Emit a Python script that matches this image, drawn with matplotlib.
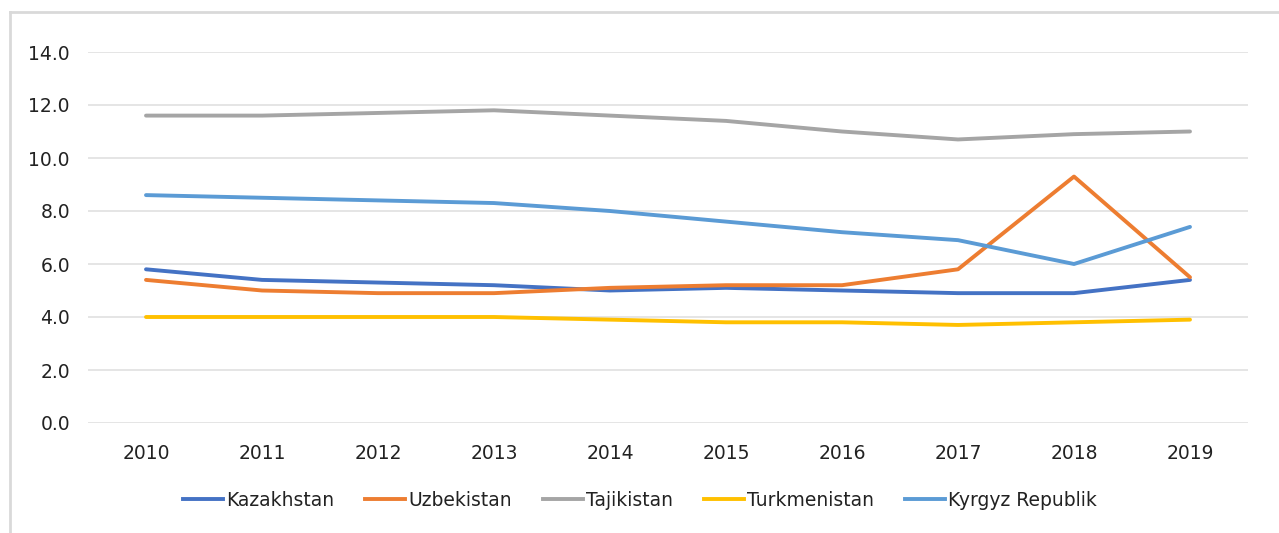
import matplotlib
matplotlib.use("Agg")
import matplotlib.pyplot as plt
from matplotlib.lines import Line2D

years = ["2010", "2011", "2012", "2013", "2014", "2015", "2016", "2017", "2018", "2019"]
kazakhstan = [5.8, 5.4, 5.3, 5.2, 5.0, 5.1, 5.0, 4.9, 4.9, 5.4]
uzbekistan = [5.4, 5.0, 4.9, 4.9, 5.1, 5.2, 5.2, 5.8, 9.3, 5.5]
tajikistan = [11.6, 11.6, 11.7, 11.8, 11.6, 11.4, 11.0, 10.7, 10.9, 11.0]
turkmenistan = [4.0, 4.0, 4.0, 4.0, 3.9, 3.8, 3.8, 3.7, 3.8, 3.9]
kyrgyz = [8.6, 8.5, 8.4, 8.3, 8.0, 7.6, 7.2, 6.9, 6.0, 7.4]

series = [
    ("Kazakhstan", kazakhstan, "#4472C4"),
    ("Uzbekistan", uzbekistan, "#ED7D31"),
    ("Tajikistan", tajikistan, "#A5A5A5"),
    ("Turkmenistan", turkmenistan, "#FFC000"),
    ("Kyrgyz Republik", kyrgyz, "#5B9BD5"),
]

plt.rcParams['font.family'] = ['DejaVu Sans']
FS = 13.5

fig = plt.figure(figsize=(12.79, 5.33), dpi=100)
ax = fig.add_axes([88/1279, 1-423/533, (1248-88)/1279, (423-52)/533])

x = list(range(len(years)))
for name, vals, col in series:
    ax.plot(x, vals, color=col, lw=2.8, label=name, solid_capstyle='round', solid_joinstyle='round')

ax.set_xlim(-0.5, len(years) - 0.5)
ax.set_ylim(0, 14)
ax.set_yticks([0, 2, 4, 6, 8, 10, 12, 14])
ax.set_yticklabels([f"{v:.1f}" for v in [0, 2, 4, 6, 8, 10, 12, 14]])
ax.set_xticks(x)
ax.set_xticklabels(years)
ax.tick_params(axis='both', length=0, labelsize=FS, colors='#222222')
ax.tick_params(axis='y', pad=13)
ax.tick_params(axis='x', pad=15)
for s in ax.spines.values():
    s.set_visible(False)
ax.grid(axis='y', color='#e0e0e0', lw=1.2)
ax.set_axisbelow(True)

# outer border (left and top)
fig.add_artist(Line2D([10/1279, 10/1279], [0, 1-12/533], transform=fig.transFigure, color='#d9d9d9', lw=2))
fig.add_artist(Line2D([10/1279, 1], [1-12/533, 1-12/533], transform=fig.transFigure, color='#d9d9d9', lw=2))

handles = [Line2D([0], [0], color=c, lw=2.8) for _, _, c in series]
labels = [n for n, _, _ in series]
fig.legend(handles, labels, loc='center', bbox_to_anchor=(640/1279, 1-500/533), ncol=5,
           frameon=False, fontsize=FS, handlelength=2.13, handletextpad=0.16, columnspacing=1.65,
           labelcolor='#222222')

fig.savefig("out.png", dpi=100)
